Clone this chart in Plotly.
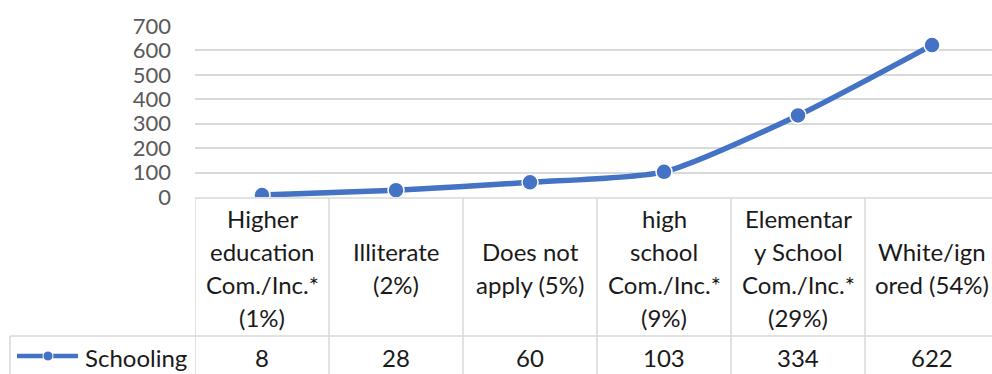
import plotly.graph_objects as go

# Schooling distribution: category labels (wrapped as in the data table) and counts
categories = [
    ["Higher", "education", "Com./Inc.*", "(1%)"],
    ["Illiterate", "(2%)"],
    ["Does not", "apply (5%)"],
    ["high", "school", "Com./Inc.*", "(9%)"],
    ["Elementar", "y School", "Com./Inc.*", "(29%)"],
    ["White/ign", "ored (54%)"],
]
series_name = "Schooling"
values = [8, 28, 60, 103, 334, 622]
y_ticks = [0, 100, 200, 300, 400, 500, 600, 700]

W, H = 992, 374
L, R, T, B = 195, 0, 26, 177
PW = W - L - R
PH = H - T - B

BLUE = "#4472C4"
GRID = "#d9d9d9"
FONT = "Lato"
FS = 24


def px_x(px):
    return (px - L) / PW


def px_y(py):
    return (H - B - py) / PH


x_idx = list(range(len(values)))
col_w = 134.0
x_max = -0.5 + PW / col_w

fig = go.Figure()
fig.add_trace(go.Scatter(
    x=x_idx, y=values, mode="lines+markers",
    line=dict(color=BLUE, width=5.5, shape="spline", smoothing=0.6),
    marker=dict(size=16, color=BLUE, line=dict(color="white", width=1.5)),
    showlegend=False, hoverinfo="skip",
))

shapes = []
# table top border
shapes.append(dict(type="line", xref="paper", yref="paper",
                   x0=px_x(195), x1=1.0, y0=px_y(198), y1=px_y(198),
                   line=dict(color=GRID, width=1.5)))
# row separator
shapes.append(dict(type="line", xref="paper", yref="paper",
                   x0=px_x(10), x1=1.0, y0=px_y(336), y1=px_y(336),
                   line=dict(color=GRID, width=1.5)))
# legend cell left border
shapes.append(dict(type="line", xref="paper", yref="paper",
                   x0=px_x(10), x1=px_x(10), y0=px_y(336), y1=px_y(H + 2),
                   line=dict(color=GRID, width=1.5)))
# column borders
for k in range(len(values)):
    shapes.append(dict(type="line", xref="x", yref="paper",
                       x0=k - 0.5, x1=k - 0.5, y0=px_y(198), y1=px_y(H + 2),
                       line=dict(color=GRID, width=1.5)))
# legend key: line with marker
shapes.append(dict(type="line", xref="paper", yref="paper",
                   x0=px_x(17), x1=px_x(78), y0=px_y(356), y1=px_y(356),
                   line=dict(color=BLUE, width=4.5)))
shapes.append(dict(type="circle", xref="paper", yref="paper",
                   x0=px_x(43), x1=px_x(53), y0=px_y(351), y1=px_y(361),
                   fillcolor=BLUE, line=dict(color="white", width=1)))

annotations = []
line_gap = 33
header_mid = 267.5
for i, lines in enumerate(categories):
    n = len(lines)
    for j, txt in enumerate(lines):
        yc = header_mid + (j - (n - 1) / 2) * line_gap
        annotations.append(dict(x=i, xref="x", y=px_y(yc), yref="paper",
                                text=txt, showarrow=False, xanchor="center",
                                yanchor="middle",
                                font=dict(family=FONT, size=FS, color="#1a1a1a")))
for i, v in enumerate(values):
    annotations.append(dict(x=i, xref="x", y=px_y(357), yref="paper",
                            text=str(v), showarrow=False, xanchor="center",
                            yanchor="middle",
                            font=dict(family=FONT, size=FS, color="#1a1a1a")))
annotations.append(dict(x=px_x(83), xref="paper", y=px_y(357), yref="paper",
                        text=series_name, showarrow=False, xanchor="left",
                        yanchor="middle",
                        font=dict(family=FONT, size=FS, color="#1a1a1a")))

fig.update_layout(
    width=W, height=H,
    margin=dict(l=L, r=R, t=T, b=B, pad=0),
    paper_bgcolor="white", plot_bgcolor="white",
    shapes=shapes, annotations=annotations,
    xaxis=dict(range=[-0.5, x_max], showgrid=False, zeroline=False,
               showticklabels=False, showline=False, fixedrange=True),
    yaxis=dict(range=[0, 700], tickvals=y_ticks, showgrid=True,
               gridcolor=GRID, gridwidth=1.5, zeroline=False, showline=False,
               ticks="", ticklabelstandoff=23,
               tickfont=dict(family=FONT, size=22, color="#595959"),
               fixedrange=True),
)

fig.write_html("out.html")
